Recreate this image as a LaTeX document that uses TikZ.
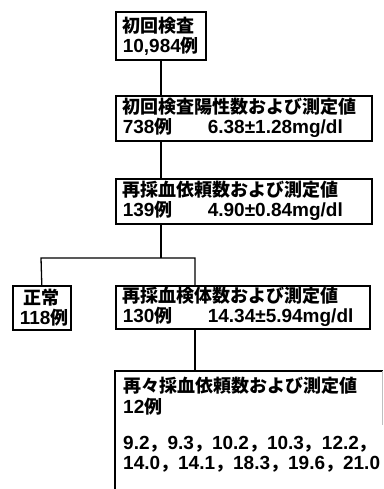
\documentclass[tikz,border=0pt]{standalone}
\usepackage{fontspec}
\newfontfamily\jp{Noto Sans CJK JP Bold}
\newfontfamily\la{Liberation Sans}
\newcommand\J[1]{{\jp\fontsize{18}{20}\selectfont #1}}
\usetikzlibrary{calc}
\begin{document}
\begin{tikzpicture}[x=1pt,y=1pt,
  box/.style={draw=black, line width=1.6pt, rectangle, anchor=north west, inner xsep=7pt, inner ysep=0pt,
    align=left, font=\la\bfseries\fontsize{19}{20}\selectfont},
  txt/.style={inner sep=0pt, align=left, font=\la\bfseries\fontsize{19}{20}\selectfont},
  conn/.style={line width=1.3pt}]
\useasboundingbox (0,0) rectangle (383,-489);
\fill[white] (0,0) rectangle (383,-489);
% boxes
\node[box, minimum width=90, minimum height=48, text width=76] (b1) at (115,-11) {\J{初回検査}\\10,984\J{例}};
\node[box, minimum width=256, minimum height=45, text width=242] (b2) at (115,-95)
  {\J{初回検査陽性数および測定値}\\\makebox[85pt][l]{738\J{例}}6.38±1.28mg/dl};
\node[box, minimum width=256, minimum height=45, text width=242] (b3) at (115,-178)
  {\J{再採血依頼数および測定値}\\\makebox[85pt][l]{139\J{例}}4.90±0.84mg/dl};
\node[box, minimum width=58, minimum height=44, text width=44, align=center] (n) at (12,-285)
  {\J{正常}\\118\J{例}};
\node[box, minimum width=254, minimum height=43, text width=240] (b4) at (115,-285)
  {\J{再採血検体数および測定値}\\\makebox[85pt][l]{130\J{例}}14.34±5.94mg/dl};
% open box at the bottom
\coordinate (b5tl) at (115,-371);
\coordinate (b5tr) at (383,-371);
\coordinate (b5bl) at (115,-489);
\draw[line width=1.6pt] (b5bl) -- (b5tl) -- (b5tr);
\draw[line width=0.8pt, gray!50] (382,-371) -- (382,-425);
\node[txt, anchor=north west] (b5) at (123,-377)
  {\J{再々採血依頼数および測定値}\\[1pt]12\J{例}\\[16pt]9.2\J{，}9.3\J{，}10.2\J{，}10.3\J{，}12.2\J{，}\\14.0\J{，}14.1\J{，}18.3\J{，}19.6\J{，}21.0};
% connectors
\coordinate (j) at (161,-258);
\coordinate (jl) at (41,-258);
\coordinate (jr) at (195,-258);
\draw[conn] (b1.south -| j) -- (b2.north -| j);
\draw[conn] (b2.south -| j) -- (b3.north -| j);
\draw[conn] (b3.south -| j) -- (j);
\draw[conn] (n.north) -- (jl) -- (jr) -- (b4.north -| jr);
\draw[conn] (b4.south -| jr) -- (b5tl -| jr);
\end{tikzpicture}
\end{document}
